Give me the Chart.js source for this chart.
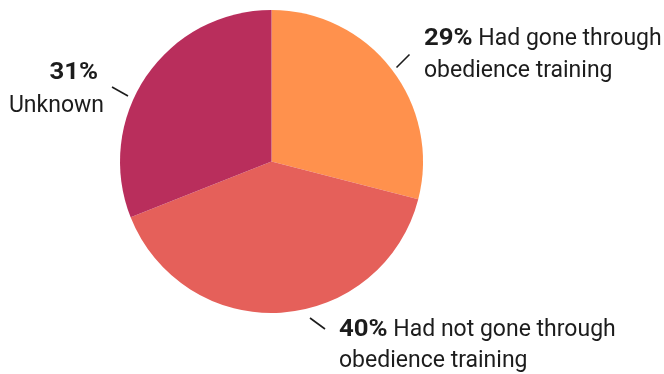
<!DOCTYPE html>
<html>
<head>
<meta charset="utf-8">
<script src="https://cdn.jsdelivr.net/npm/chart.js@4"></script>
<style>
  html, body { margin: 0; padding: 0; background: #fff; }
  #wrap { width: 664px; height: 374px; position: relative; }
</style>
</head>
<body>
<div id="wrap"><canvas id="pie"></canvas></div>
<script>
// data
const categories = ['Had gone through obedience training', 'Had not gone through obedience training', 'Unknown'];
const shares = [29, 40, 31];
const sliceColors = ['#FF914D', '#E5605A', '#B92E5C'];

// label text lines (first line follows the bold percentage)
const labelLines = [
  ['Had gone through', 'obedience training'],
  ['Had not gone through', 'obedience training'],
  ['', 'Unknown']
];

// label placement (layout only)
const labelLayout = [
  { x: 424, y: 45, lh: 32, align: 'left', line: [396.5, 67.5, 409.5, 54.5] },
  { x: 339, y: 336, lh: 31, align: 'left', line: [310, 318, 325, 329] },
  { x: 98, y: 79, lh: 33, align: 'right', x2: 104, line: [112, 87, 128, 96] }
];

const FONT = 'Roboto, "Liberation Sans", sans-serif';
const SIZE = 23;
const BOLD_STRETCH = 1.12;

// draws bold text stretched horizontally, returns drawn width
function boldText(ctx, txt, x, y, alignRight) {
  ctx.font = 'bold ' + SIZE + 'px ' + FONT;
  const w = ctx.measureText(txt).width * BOLD_STRETCH;
  const left = alignRight ? x - w : x;
  ctx.save();
  ctx.textAlign = 'left';
  ctx.translate(left, y);
  ctx.scale(BOLD_STRETCH, 1);
  ctx.fillText(txt, 0, 0);
  ctx.restore();
  return w;
}

const labelPlugin = {
  id: 'pieLabels',
  afterDraw(chart) {
    const ctx = chart.ctx;
    ctx.save();
    ctx.fillStyle = '#1c1c1c';
    ctx.strokeStyle = '#1c1c1c';
    ctx.lineWidth = 1.6;
    ctx.textBaseline = 'alphabetic';
    shares.forEach((v, i) => {
      const L = labelLayout[i];
      const lines = labelLines[i];
      const pct = v + '%';
      ctx.beginPath();
      ctx.moveTo(L.line[0], L.line[1]);
      ctx.lineTo(L.line[2], L.line[3]);
      ctx.stroke();

      if (L.align === 'left') {
        const w = boldText(ctx, pct, L.x, L.y, false);
        ctx.font = SIZE + 'px ' + FONT;
        ctx.textAlign = 'left';
        const sp = ctx.measureText(' ').width;
        ctx.fillText(lines[0], L.x + w + sp, L.y);
        ctx.fillText(lines[1], L.x, L.y + L.lh);
      } else {
        boldText(ctx, pct, L.x, L.y, true);
        ctx.font = SIZE + 'px ' + FONT;
        ctx.textAlign = 'right';
        ctx.fillText(lines[1], L.x2, L.y + L.lh);
      }
    });
    ctx.restore();
  }
};

new Chart(document.getElementById('pie'), {
  type: 'pie',
  data: {
    labels: categories,
    datasets: [{
      data: shares,
      backgroundColor: sliceColors,
      borderWidth: 0
    }]
  },
  options: {
    responsive: true,
    maintainAspectRatio: false,
    animation: false,
    layout: { padding: { left: 120, right: 241, top: 10, bottom: 61 } },
    plugins: {
      legend: { display: false },
      tooltip: { enabled: false }
    }
  },
  plugins: [labelPlugin]
});
</script>
</body>
</html>
